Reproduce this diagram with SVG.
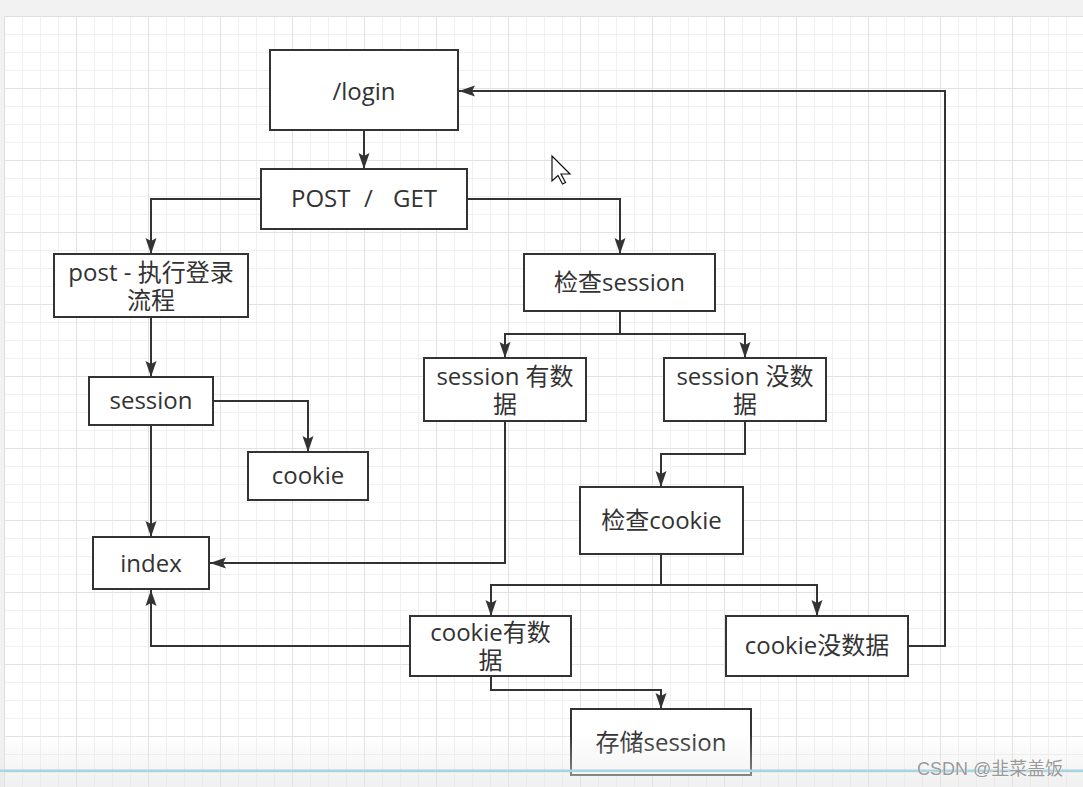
<svg xmlns="http://www.w3.org/2000/svg" width="1083" height="787" viewBox="0 0 1083 787">
<style>
.box{fill:#ffffff;stroke:#333333;stroke-width:2}
.lbl{font-family:"Open Sans","Noto Sans CJK SC",sans-serif;font-size:24px;fill:#333333;text-anchor:middle}
.edge{fill:none;stroke:#333333;stroke-width:2;marker-end:url(#arr)}
.seg{fill:none;stroke:#333333;stroke-width:2}
</style>
<defs>
<pattern id="grid" x="4" y="16" width="72" height="72" patternUnits="userSpaceOnUse">
<rect x="0" y="0" width="72" height="72" fill="#ffffff"/>
<path d="M18.5,0V72M36.5,0V72M54.5,0V72M0,18.5H72M0,36.5H72M0,54.5H72" stroke="#f0f0f0" stroke-width="1" fill="none"/>
<path d="M0.5,0V72M0,0.5H72" stroke="#e2e2e2" stroke-width="1" fill="none"/>
</pattern>
<linearGradient id="fade" x1="0" y1="0" x2="0" y2="1">
<stop offset="0" stop-color="#e6e6e6" stop-opacity="0"/>
<stop offset="1" stop-color="#e6e6e6" stop-opacity="0.6"/>
</linearGradient>
<marker id="arr" viewBox="-17 -6 18 12" refX="0" refY="0" markerWidth="18" markerHeight="12" markerUnits="userSpaceOnUse" orient="auto">
<path d="M0,0L-16,-5.5L-13,0L-16,5.5Z" fill="#333333"/>
</marker>
</defs>
<rect x="0" y="0" width="1083" height="787" fill="#f2f2f2"/>
<rect x="4" y="16" width="1079" height="771" fill="url(#grid)"/>
<line x1="4" y1="16.5" x2="1083" y2="16.5" stroke="#dedede"/>
<line x1="4.5" y1="16" x2="4.5" y2="787" stroke="#dedede"/>

<g id="connectors">
<path class="edge" d="M364,130V169"/>
<path class="edge" d="M261,199H151V254"/>
<path class="edge" d="M467,199H620V254"/>
<path class="seg" d="M620,311V334"/>
<path class="edge" d="M620,334H505V358"/>
<path class="edge" d="M620,334H745V358"/>
<path class="edge" d="M151,317V377"/>
<path class="edge" d="M213,401H308V452"/>
<path class="edge" d="M151,425V537"/>
<path class="edge" d="M505,421V563H210"/>
<path class="edge" d="M745,421V454H661V487"/>
<path class="seg" d="M661,554V585"/>
<path class="edge" d="M661,585H491V616"/>
<path class="edge" d="M661,585H817V616"/>
<path class="edge" d="M410,646H151V590"/>
<path class="edge" d="M491,676V690H661V709"/>
<path class="edge" d="M908,646H945V91H459"/>
</g>

<g id="login"><rect class="box" x="270" y="50" width="188" height="80"/><text class="lbl" x="364" y="100">/login</text></g>
<g id="postget"><rect class="box" x="261" y="169" width="206" height="60"/><text class="lbl" y="207" style="text-anchor:start"><tspan x="291">POST</tspan><tspan x="364">/</tspan><tspan x="393">GET</tspan></text></g>
<g id="post"><rect class="box" x="54" y="254" width="194" height="63"/><text class="lbl"><tspan x="151" y="281">post - 执行登录</tspan><tspan x="151" y="309">流程</tspan></text></g>
<g id="chksession"><rect class="box" x="524" y="254" width="191" height="57"/><text class="lbl" x="619.5" y="291">检查session</text></g>
<g id="session_yes"><rect class="box" x="424" y="358" width="162" height="63"/><text class="lbl"><tspan x="505" y="385">session 有数</tspan><tspan x="505" y="413">据</tspan></text></g>
<g id="session_no"><rect class="box" x="664" y="358" width="162" height="63"/><text class="lbl"><tspan x="745" y="385">session 没数</tspan><tspan x="745" y="413">据</tspan></text></g>
<g id="session"><rect class="box" x="89" y="377" width="124" height="48"/><text class="lbl" x="151" y="409">session</text></g>
<g id="cookie"><rect class="box" x="248" y="452" width="120" height="48"/><text class="lbl" x="308" y="484">cookie</text></g>
<g id="index"><rect class="box" x="93" y="537" width="116" height="52"/><text class="lbl" x="151" y="572">index</text></g>
<g id="chkcookie"><rect class="box" x="580" y="487" width="163" height="67"/><text class="lbl" x="661.5" y="529">检查cookie</text></g>
<g id="cookie_yes"><rect class="box" x="410" y="616" width="161" height="60"/><text class="lbl"><tspan x="490.5" y="641">cookie有数</tspan><tspan x="490.5" y="669">据</tspan></text></g>
<g id="cookie_no"><rect class="box" x="726" y="616" width="182" height="60"/><text class="lbl" x="817" y="654">cookie没数据</text></g>
<g id="store"><rect class="box" x="571" y="709" width="180" height="66"/><text class="lbl" x="661" y="751">存储session</text></g>

<g id="cursor"><path d="M552,156V181L558,175.5L562.5,184L565.5,182.5L561,174H570Z" fill="#ffffff" stroke="#111111" stroke-width="1.2" stroke-linejoin="miter"/></g>

<rect x="0" y="735" width="1083" height="52" fill="url(#fade)"/>
<rect x="0" y="769.5" width="1083" height="2.5" fill="#a6d6e6"/>
<text x="917" y="775" style="font-family:'Liberation Sans','Noto Sans CJK SC',sans-serif;font-size:18px;fill:#9a9a9a;stroke:#ffffff;stroke-width:0.6;paint-order:stroke">CSDN @韭菜盖饭</text>
</svg>
